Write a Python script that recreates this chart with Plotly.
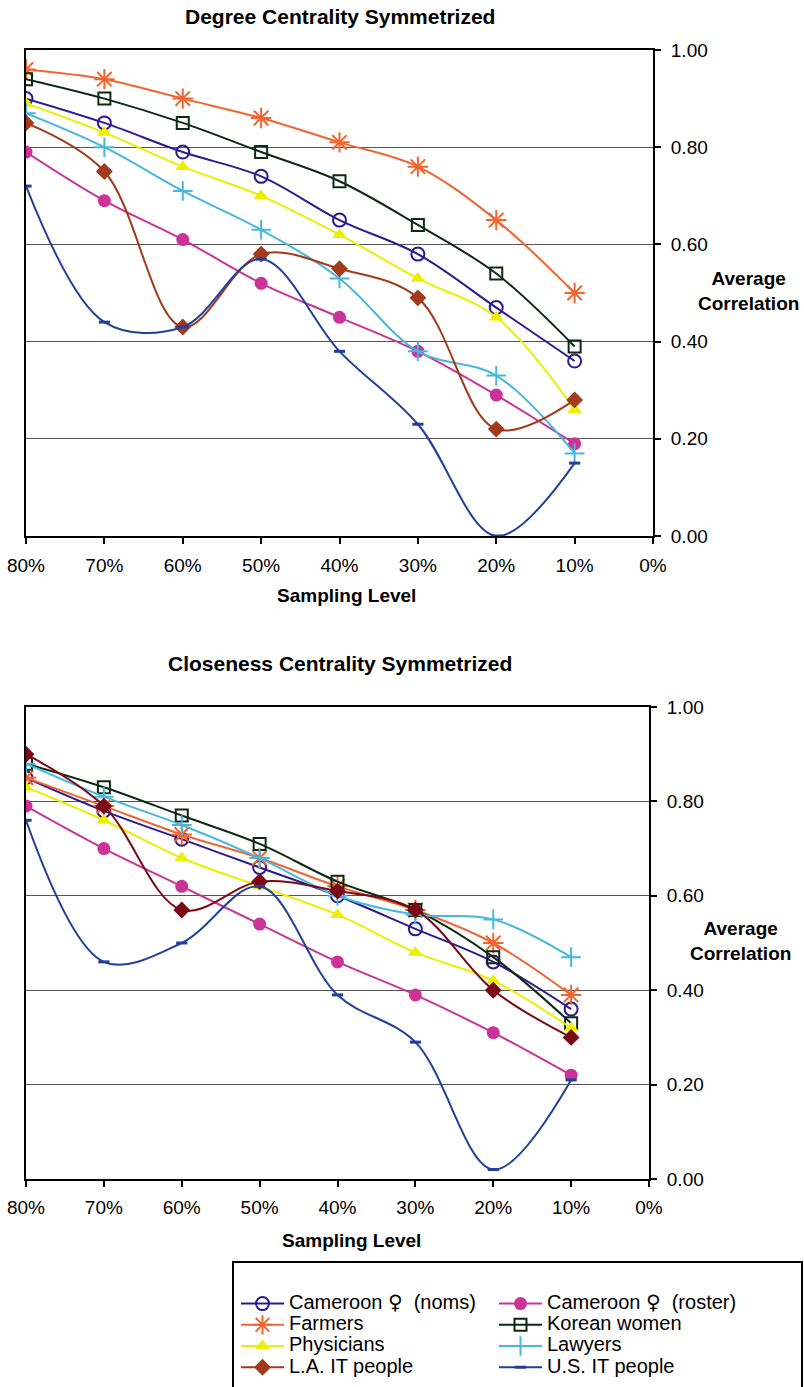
import plotly.graph_objects as go

W, H = 804, 1387

levels = [80, 70, 60, 50, 40, 30, 20, 10]
tick_vals = [80, 70, 60, 50, 40, 30, 20, 10, 0]
tick_text = ["80%", "70%", "60%", "50%", "40%", "30%", "20%", "10%", "0%"]
y_tick_vals = [0, 0.2, 0.4, 0.6, 0.8, 1.0]
y_tick_text = ["0.00", "0.20", "0.40", "0.60", "0.80", "1.00"]

FEM = '<span style="font-family:DejaVu Sans">♀</span>'
series_names = ["Cameroon " + FEM + "  (noms)", "Cameroon " + FEM + "  (roster)", "Farmers",
                "Korean women", "Physicians", "Lawyers", "L.A. IT people", "U.S. IT people"]

# Degree Centrality Symmetrized
deg_noms = [0.90, 0.85, 0.79, 0.74, 0.65, 0.58, 0.47, 0.36]
deg_roster = [0.79, 0.69, 0.61, 0.52, 0.45, 0.38, 0.29, 0.19]
deg_farmers = [0.96, 0.94, 0.90, 0.86, 0.81, 0.76, 0.65, 0.50]
deg_korean = [0.94, 0.90, 0.85, 0.79, 0.73, 0.64, 0.54, 0.39]
deg_physicians = [0.89, 0.83, 0.76, 0.70, 0.62, 0.53, 0.45, 0.26]
deg_lawyers = [0.87, 0.80, 0.71, 0.63, 0.53, 0.38, 0.33, 0.17]
deg_la_it = [0.85, 0.75, 0.43, 0.58, 0.55, 0.49, 0.22, 0.28]
deg_us_it = [0.72, 0.44, 0.43, 0.57, 0.38, 0.23, 0.00, 0.15]

# Closeness Centrality Symmetrized
clo_noms = [0.85, 0.78, 0.72, 0.66, 0.60, 0.53, 0.46, 0.36]
clo_roster = [0.79, 0.70, 0.62, 0.54, 0.46, 0.39, 0.31, 0.22]
clo_farmers = [0.85, 0.79, 0.73, 0.68, 0.62, 0.57, 0.50, 0.39]
clo_korean = [0.88, 0.83, 0.77, 0.71, 0.63, 0.57, 0.47, 0.33]
clo_physicians = [0.83, 0.76, 0.68, 0.62, 0.56, 0.48, 0.42, 0.32]
clo_lawyers = [0.88, 0.81, 0.75, 0.68, 0.60, 0.56, 0.55, 0.47]
clo_la_it = [0.90, 0.79, 0.57, 0.63, 0.61, 0.57, 0.40, 0.30]
clo_us_it = [0.76, 0.46, 0.50, 0.62, 0.39, 0.29, 0.02, 0.21]

FONT = "Liberation Sans, Arial, Helvetica, sans-serif"


def px(x):
    return x / W


def py(y):
    return 1 - y / H


styles = [
    dict(color="#2E1A8E", symbol="circle-open", size=13, lw=2),
    dict(color="#CC3399", symbol="circle", size=13, lw=0),
    dict(color="#F26430", symbol="asterisk-open", size=17, lw=2),
    dict(color="#0B2A12", symbol="square-open", size=12, lw=2),
    dict(color="#EEEE00", symbol="triangle-up", size=13, lw=0),
    dict(color="#45B8DC", symbol="cross-thin-open", size=14, lw=2),
    dict(color="#A33A1C", symbol="diamond", size=13, lw=0),
    dict(color="#22409A", symbol="line-ew-open", size=8, lw=3),
]
legend_of = ["legend", "legend2", "legend", "legend2", "legend", "legend2", "legend", "legend2"]

deg_data = [deg_noms, deg_roster, deg_farmers, deg_korean, deg_physicians, deg_lawyers, deg_la_it, deg_us_it]
clo_data = [clo_noms, clo_roster, clo_farmers, clo_korean, clo_physicians, clo_lawyers, clo_la_it, clo_us_it]

fig = go.Figure()

for panel, data in enumerate([deg_data, clo_data]):
    for i, vals in enumerate(data):
        st = styles[i]
        color = st["color"]
        if panel == 1 and i == 6:
            color = "#7B0A16"
        fig.add_trace(go.Scatter(
            x=levels, y=vals,
            xaxis="x" if panel == 0 else "x2",
            yaxis="y" if panel == 0 else "y2",
            mode="lines+markers",
            name='<span style="font-size:20px">' + series_names[i] + "</span>",
            legend=legend_of[i],
            showlegend=(panel == 0),
            line=dict(color=color, width=2, shape="spline", smoothing=1.0),
            marker=dict(symbol=st["symbol"], size=st["size"], color=color,
                        line=dict(color=color, width=st["lw"])),
        ))

axis_common = dict(showline=True, mirror=True, linecolor="black", linewidth=2,
                   ticks="outside", ticklen=6, tickwidth=1.5, tickcolor="black",
                   zeroline=False, fixedrange=True, automargin=False,
                   tickfont=dict(family=FONT, size=19, color="black"))

fig.update_layout(
    width=W, height=H,
    margin=dict(l=0, r=0, t=0, b=0, autoexpand=False),
    paper_bgcolor="white", plot_bgcolor="white",
    xaxis=dict(domain=[px(26), px(653)], range=[80, 0], tickvals=tick_vals, ticktext=tick_text,
               showgrid=False, anchor="y", ticklabelstandoff=5, **axis_common),
    yaxis=dict(domain=[py(536), py(50)], range=[0, 1], side="right", tickvals=y_tick_vals,
               ticktext=y_tick_text, showgrid=True, gridcolor="#555555", gridwidth=1,
               anchor="x", ticklabelstandoff=6, **axis_common),
    xaxis2=dict(domain=[px(26), px(649)], range=[80, 0], tickvals=tick_vals, ticktext=tick_text,
                showgrid=False, anchor="y2", ticklabelstandoff=4, **axis_common),
    yaxis2=dict(domain=[py(1179), py(707)], range=[0, 1], side="right", tickvals=y_tick_vals,
                ticktext=y_tick_text, showgrid=True, gridcolor="#555555", gridwidth=1,
                anchor="x2", ticklabelstandoff=6, **axis_common),
    legend=dict(x=px(236), y=py(1288), xanchor="left", yanchor="top",
                font=dict(family=FONT, size=14, color="black"), itemwidth=43,
                bgcolor="rgba(0,0,0,0)", borderwidth=0, traceorder="normal"),
    legend2=dict(x=px(494), y=py(1288), xanchor="left", yanchor="top",
                 font=dict(family=FONT, size=14, color="black"), itemwidth=43,
                 bgcolor="rgba(0,0,0,0)", borderwidth=0, traceorder="normal"),
    shapes=[dict(type="rect", xref="paper", yref="paper", x0=px(233), y0=py(1262),
                 x1=px(802), y1=py(1395), line=dict(color="black", width=2))],
)

bold = dict(family=FONT, size=21, color="black")
bold_ax = dict(family=FONT, size=19, color="black")
annotations = [
    dict(text="<b>Degree Centrality Symmetrized</b>", x=px(340), y=py(16), font=bold),
    dict(text="<b>Sampling Level</b>", x=px(346), y=py(595), font=bold_ax),
    dict(text="<b>Average<br>Correlation</b>", x=px(748), y=py(291), font=bold_ax),
    dict(text="<b>Closeness Centrality Symmetrized</b>", x=px(340), y=py(663), font=bold),
    dict(text="<b>Sampling Level</b>", x=px(351), y=py(1240), font=bold_ax),
    dict(text="<b>Average<br>Correlation</b>", x=px(740), y=py(941), font=bold_ax),
]
for a in annotations:
    fig.add_annotation(xref="paper", yref="paper", xanchor="center", yanchor="middle",
                       showarrow=False, **a)

fig.write_html("out.html")
